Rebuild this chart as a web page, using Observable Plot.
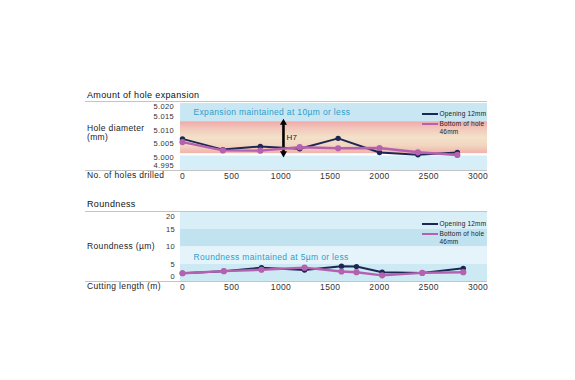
<!DOCTYPE html>
<html>
<head>
<meta charset="utf-8">
<script src="https://cdn.jsdelivr.net/npm/d3@7"></script>
<script src="https://cdn.jsdelivr.net/npm/@observablehq/plot@0.6"></script>
<style>
  body { margin: 0; background: #fff; font-family: "Liberation Sans", Arial, sans-serif; }
  #wrap { position: relative; width: 575px; height: 380px; overflow: hidden; background: #fff; }
  .abs { position: absolute; white-space: nowrap; color: #222; letter-spacing: 0.35px; }
  .rule { position: absolute; height: 1px; background: #c4c4c4; }
  .sw { position: absolute; }
  #wrap svg { position: absolute; left: 0; }
</style>
</head>
<body>
<div id="wrap"></div>
<script>
// ---------- data ----------
const xTicks = [0, 500, 1000, 1500, 2000, 2500, 3000];
const xDomain = [-20, 3096];

// Amount of hole expansion
const holesDrilled = [0, 410, 790, 1190, 1580, 2000, 2390, 2790];
const openingDia = [5.0068, 5.0028, 5.0040, 5.0031, 5.0070, 5.0017, 5.0009, 5.0017];
const bottomDia  = [5.0056, 5.0025, 5.0024, 5.0037, 5.0033, 5.0034, 5.0018, 5.0008];
const diaTicks = [4.995, 5.000, 5.005, 5.010, 5.015, 5.020];
const diaDomain = [4.995, 5.020];
const diaBandLo = [5.0132, 5.0012, 5.0004, 4.995];
const diaBandHi = [5.020, 5.0132, 5.0012, 5.0004];
const h7 = {x: 1025, lo: 5.0014, hi: 5.0128, labelY: 5.0073, label: "H7"};

// Roundness
const cuttingLength = [0, 420, 802, 1239, 1614, 1766, 2027, 2434, 2850];
const openingRound = [2.5, 3.1, 4.1, 3.4, 4.5, 4.4, 2.8, 2.6, 3.9];
const bottomRound  = [2.5, 3.1, 3.5, 4.1, 3.0, 2.8, 1.9, 2.6, 2.8];
const roundTicks = [0, 5, 10, 15, 20];
const roundDomain = [0, 20];
const roundBandLo = [15, 10, 5, 0];
const roundBandHi = [20, 15, 10, 5];

const seriesNames = ["Opening 12mm", "Bottom of hole\n46mm"];

// ---------- styles ----------
const NAVY = "#1c2754", PINK = "#b462b0", BLUE_TXT = "#2e9dcc", TICK = "#333";
const FONT = '"Liberation Sans", Arial, sans-serif';
const diaBandFill = ["#c8e7f3", "url(#h7grad)", "#ffffff", "#d5eef8"];
const roundBandFill = ["#d8eff8", "#c1e3f0", "#e5f4fa", "#cde9f4"];

const wrap = document.getElementById("wrap");

function el(cls, css, html) {
  const d = document.createElement("div");
  d.className = cls;
  Object.assign(d.style, css);
  if (html != null) d.innerHTML = html;
  wrap.appendChild(d);
  return d;
}

function makeChart(cfg) {
  const lineA = cfg.x.map((x, i) => ({x, y: cfg.a[i]}));
  const lineB = cfg.x.map((x, i) => ({x, y: cfg.b[i]}));
  const bands = cfg.bandLo.map((lo, i) => ({lo, hi: cfg.bandHi[i], fill: cfg.bandFill[i]}));
  const t = cfg.ticks;
  const mid = t.slice(1, -1);
  const textBase = {fontSize: 7.5, fill: TICK, frameAnchor: "left", textAnchor: "end", lineAnchor: "middle", dx: cfg.tickDx};
  const marks = [
    Plot.rect(bands, {x1: () => xDomain[0], x2: () => xDomain[1], y1: "lo", y2: "hi", fill: "fill"}),
    Plot.text(mid, {...textBase, y: d => d, text: cfg.fmt}),
    Plot.text([t[t.length - 1]], {...textBase, y: d => d, text: cfg.fmt, dy: cfg.topNudge}),
    Plot.text([t[0]], {...textBase, y: d => d, text: cfg.fmt, dy: cfg.botNudge}),
    Plot.text(xTicks, {x: d => d, text: d => String(d), frameAnchor: "bottom", lineAnchor: "middle", dy: 5.5, fontSize: 8.5, fill: TICK}),
    Plot.text([cfg.note], {text: d => d, frameAnchor: "top-left", textAnchor: "start", lineAnchor: "middle", dx: 13, dy: cfg.noteDy, fontSize: 8.5, fill: BLUE_TXT}),
    ...(cfg.extra || []),
    Plot.line(lineA, {x: "x", y: "y", stroke: NAVY, strokeWidth: 2}),
    Plot.dot(lineA, {x: "x", y: "y", r: 2.7, fill: NAVY}),
    Plot.line(lineB, {x: "x", y: "y", stroke: PINK, strokeWidth: 2.4}),
    Plot.dot(lineB, {x: "x", y: "y", r: 3.1, fill: PINK})
  ];
  const svg = Plot.plot({
    width: 575, height: 95,
    marginTop: cfg.mt, marginBottom: cfg.mb, marginLeft: 180, marginRight: 88,
    x: {domain: xDomain, axis: null},
    y: {domain: cfg.domain, axis: null},
    color: {type: "identity"},
    style: {fontFamily: FONT, background: "transparent", overflow: "visible", letterSpacing: "0.35px"},
    marks
  });
  svg.style.top = cfg.top + "px";
  if (cfg.gradient) {
    const ns = "http://www.w3.org/2000/svg";
    const defs = document.createElementNS(ns, "defs");
    const g = document.createElementNS(ns, "linearGradient");
    g.setAttribute("id", "h7grad");
    g.setAttribute("x1", "0"); g.setAttribute("y1", "0"); g.setAttribute("x2", "0"); g.setAttribute("y2", "1");
    [["0%", "#f0a8a8"], ["22%", "#f2c7bb"], ["50%", "#f3e1c9"], ["75%", "#f2d6c0"], ["100%", "#f1b0ab"]].forEach(([o, c]) => {
      const s = document.createElementNS(ns, "stop");
      s.setAttribute("offset", o); s.setAttribute("stop-color", c);
      g.appendChild(s);
    });
    defs.appendChild(g);
    svg.insertBefore(defs, svg.firstChild);
  }
  wrap.appendChild(svg);
}

// ---------- chart 1 ----------
makeChart({
  top: 90, mt: 13, mb: 15, domain: diaDomain,
  x: holesDrilled, a: openingDia, b: bottomDia,
  bandLo: diaBandLo, bandHi: diaBandHi, bandFill: diaBandFill, gradient: true,
  ticks: diaTicks, fmt: d3.format(".3f"), tickDx: -6.5, topNudge: 3, botNudge: -4.5,
  note: "Expansion maintained at 10µm or less", noteDy: 9,
  extra: [
    Plot.ruleX([h7], {x: "x", y1: "lo", y2: "hi", stroke: "#000", strokeWidth: 2.6}),
    Plot.dot([h7], {x: "x", y: "hi", symbol: "triangle", r: 2.6, fill: "#000"}),
    Plot.dot([h7], {x: "x", y: "lo", symbol: "triangle", rotate: 180, r: 2.6, fill: "#000"}),
    Plot.text([h7], {x: "x", y: "labelY", text: "label", dx: 3, textAnchor: "start", fontSize: 8, fill: "#222"})
  ]
});

// ---------- chart 2 ----------
makeChart({
  top: 200, mt: 11.5, mb: 13.5, domain: roundDomain,
  x: cuttingLength, a: openingRound, b: bottomRound,
  bandLo: roundBandLo, bandHi: roundBandHi, bandFill: roundBandFill, gradient: false,
  ticks: roundTicks, fmt: d => String(d), tickDx: -5.5, topNudge: 4.5, botNudge: -5.5,
  note: "Roundness maintained at 5µm or less", noteDy: 45.5
});

// ---------- titles, labels, rules, legends (HTML) ----------
const titleCss = {left: "87px", fontSize: "9px", lineHeight: "10px", color: "#111"};
el("abs", {...titleCss, top: "90px"}, "Amount of hole expansion");
el("abs", {...titleCss, top: "199.3px"}, "Roundness");

el("rule", {left: "85px", width: "402px", top: "100.5px"});
el("rule", {left: "85px", width: "402px", top: "169.5px"});
el("rule", {left: "85px", width: "402px", top: "210.5px"});
el("rule", {left: "85px", width: "402px", top: "281px"});

const lblCss = {left: "87px", fontSize: "8.5px", lineHeight: "9px", color: "#222"};
el("abs", {...lblCss, top: "123.8px"}, "Hole diameter<br>(mm)");
el("abs", {...lblCss, top: "170.5px"}, "No. of holes drilled");
el("abs", {...lblCss, top: "242.2px"}, "Roundness (µm)");
el("abs", {...lblCss, top: "281.5px"}, "Cutting length (m)");

function legend(dy) {
  el("sw", {left: "421.7px", width: "16.6px", top: (113 + dy) + "px", height: "1.8px", background: NAVY});
  el("sw", {left: "421.7px", width: "16.6px", top: (123 + dy) + "px", height: "2.2px", background: PINK});
  const lc = {left: "439.5px", fontSize: "6.5px", lineHeight: "8.7px", color: "#222", letterSpacing: "0.2px"};
  el("abs", {...lc, top: (109.8 + dy) + "px"}, seriesNames[0]);
  el("abs", {...lc, top: (119.7 + dy) + "px"}, seriesNames[1].replace("\n", "<br>"));
}
legend(0);
legend(110);
</script>
</body>
</html>
